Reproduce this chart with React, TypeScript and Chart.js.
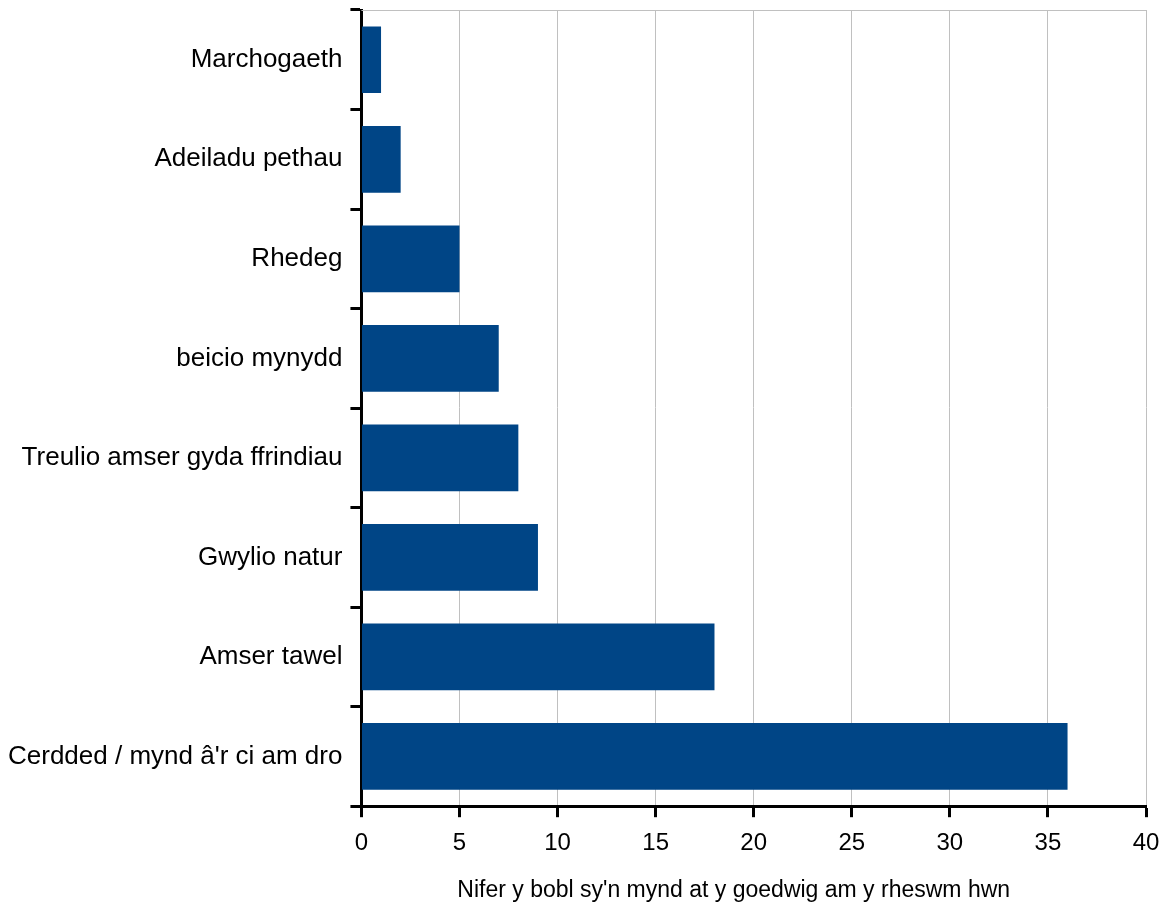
import React, { useEffect, useRef } from "react";
import { Chart, registerables } from "chart.js";

Chart.register(...registerables);

const categories = [
  "Marchogaeth",
  "Adeiladu pethau",
  "Rhedeg",
  "beicio mynydd",
  "Treulio amser gyda ffrindiau",
  "Gwylio natur",
  "Amser tawel",
  "Cerdded / mynd â'r ci am dro",
];
const values = [1, 2, 5, 7, 8, 9, 18, 36];
const xTitle = "Nifer y bobl sy'n mynd at y goedwig am y rheswm hwn";

const FONT = "'Liberation Sans', Arial, sans-serif";

const frameAndTitle = {
  id: "frameAndTitle",
  afterDatasetsDraw(chart: any) {
    const { ctx, chartArea } = chart;
    ctx.save();
    ctx.strokeStyle = "#c0c0c0";
    ctx.lineWidth = 1;
    ctx.beginPath();
    ctx.moveTo(chartArea.left, chartArea.top + 0.5);
    ctx.lineTo(chartArea.right, chartArea.top + 0.5);
    ctx.stroke();
    ctx.restore();
  },
  afterDraw(chart: any) {
    const { ctx, chartArea } = chart;
    ctx.save();
    ctx.fillStyle = "#000";
    ctx.font = `23px ${FONT}`;
    ctx.textAlign = "center";
    ctx.textBaseline = "alphabetic";
    ctx.fillText(xTitle, (chartArea.left + chartArea.right) / 2 - 20, chart.height - 8);
    ctx.restore();
  },
};

export default function App() {
  const ref = useRef<HTMLCanvasElement>(null);
  useEffect(() => {
    const chart = new Chart(ref.current!, {
      type: "bar",
      data: {
        labels: categories,
        datasets: [
          {
            data: values,
            backgroundColor: "#004586",
            barPercentage: 0.67,
            categoryPercentage: 1,
          },
        ],
      },
      options: {
        indexAxis: "y",
        animation: false,
        responsive: false,
        maintainAspectRatio: false,
        layout: { padding: { left: 0, right: 20, top: 10, bottom: 35 } },
        plugins: { legend: { display: false }, tooltip: { enabled: false } },
        scales: {
          x: {
            min: 0,
            max: 40,
            afterFit(scale: any) {
              scale.paddingLeft = 0;
              scale.paddingRight = 0;
            },
            ticks: {
              stepSize: 5,
              color: "#000",
              padding: 12,
              font: { family: FONT, size: 24 },
            },
            grid: {
              color: "#c0c0c0",
              lineWidth: 1,
              tickColor: "#000",
              tickLength: 11,
              tickWidth: 3,
            },
            border: { color: "#000", width: 3 },
          },
          y: {
            afterFit(scale: any) {
              scale.paddingTop = 0;
              scale.paddingBottom = 0;
            },
            ticks: {
              color: "#000",
              padding: 8,
              font: { family: FONT, size: 26 },
            },
            grid: {
              offset: true,
              drawOnChartArea: false,
              color: "#000",
              tickLength: 11,
              tickWidth: 3,
            },
            border: { color: "#000", width: 3 },
          },
        },
      },
      plugins: [frameAndTitle],
    });
    return () => chart.destroy();
  }, []);
  return (
    <div style={{ position: "fixed", left: 0, top: 0, width: 1166, height: 905, background: "#fff" }}>
      <canvas ref={ref} width={1166} height={905} />
    </div>
  );
}
